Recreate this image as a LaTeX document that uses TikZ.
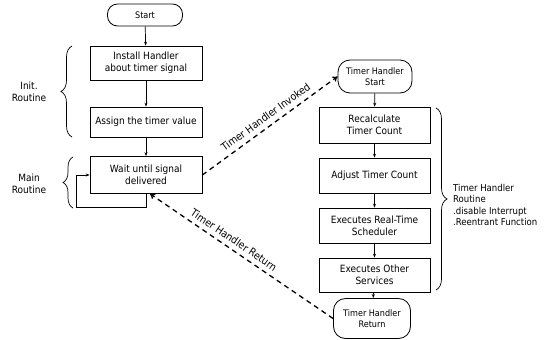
\documentclass[tikz,border=0pt]{standalone}
\usepackage{fontspec}
\IfFontExistsTF{DejaVu Sans Condensed}{\setmainfont{DejaVu Sans Condensed}}{\setmainfont{Liberation Sans}}
\usetikzlibrary{arrows.meta,decorations.pathreplacing,calc}
\begin{document}
\begin{tikzpicture}[x=1pt,y=-1pt,
  box/.style={draw,line width=0.7pt,minimum width=112pt,align=center,inner sep=1pt,font=\fontsize{10}{12}\selectfont},
  term/.style={draw,line width=0.8pt,rounded corners=12pt,align=center,inner sep=1pt,font=\fontsize{9}{10.5}\selectfont},
  flow/.style={line width=0.7pt,-{Stealth[length=4pt,width=3pt]}},
  dashline/.style={line width=1.3pt,dash pattern=on 5pt off 4pt},
  lbl/.style={font=\fontsize{10.5}{12}\selectfont,align=center,inner sep=1pt},
  sidelbl/.style={font=\fontsize{10}{12}\selectfont,align=center},
  brc/.style={line width=0.7pt,decorate,decoration={brace,amplitude=11pt}}]
\useasboundingbox (0,0) rectangle (547,340);
% left column
\node[term,rounded corners=10pt,minimum width=75pt,minimum height=22pt] (start) at (145,15) {Start};
\node[box,minimum height=34pt] (install) at (146,63) {Install Handler\\about timer signal};
\node[box,minimum height=30pt] (assign) at (146,122) {Assign the timer value};
\node[box,minimum height=37pt] (wait) at (146,175) {Wait until signal\\delivered};
\draw[flow] (start) -- (install);
\draw[flow] (install) -- (assign);
\draw[flow] (assign) -- (wait);
\coordinate (lpb) at (76,207);
\draw[flow] (wait.south) |- (lpb) |- (wait.west);
% braces and labels
\draw[brc] (72,137) -- (72,46);
\draw[brc,decoration={brace,amplitude=10pt}] (73,208) -- (73,157);
\node[sidelbl] (initlbl) at (29,92) {Init.\\Routine};
\node[sidelbl] (mainlbl) at (29,184) {Main\\Routine};
% right column
\node[term,minimum width=74pt,minimum height=33pt] (ths) at (375,76.5) {Timer Handler\\Start};
\node[box,minimum width=111pt,minimum height=36pt] (recalc) at (374.5,125) {Recalculate\\Timer Count};
\node[box,minimum width=111pt,minimum height=35pt] (adjust) at (374.5,175.5) {Adjust Timer Count};
\node[box,minimum width=111pt,minimum height=35pt] (exec) at (374.5,225.5) {Executes Real-Time\\Scheduler};
\node[box,minimum width=111pt,minimum height=34pt] (other) at (374.5,275) {Executes Other\\Services};
\node[term,minimum width=77pt,minimum height=40pt] (thr) at (372,318.5) {Timer Handler\\Return};
\draw[flow] (ths) -- (recalc);
\draw[flow] (recalc) -- (adjust);
\draw[flow] (adjust) -- (exec);
\draw[flow] (exec) -- (other);
\draw[flow] (other) -- (thr);
\draw[brc] (436,108) -- (436,290);
\node[font=\fontsize{9.5}{11.5}\selectfont,align=left,anchor=west,inner sep=1pt] (routinelbl) at (452,205) {Timer Handler\\Routine\\.disable Interrupt\\.Reentrant Function};
% dashed connectors
\draw[dashline,-{To[length=5pt,width=6pt]}] (wait.east) -- (ths.west)
  node[lbl,sloped,above=4pt,pos=0.51] {Timer Handler Invoked};
\coordinate (ret) at ([xshift=4pt]wait.south);
\draw[dashline,-{To[length=5pt,width=6pt]}] (thr.west) -- (ret);
\path (ret) -- (thr.west) node[lbl,sloped,above=4pt,pos=0.43] {Timer Handler Return};
\end{tikzpicture}
\end{document}
